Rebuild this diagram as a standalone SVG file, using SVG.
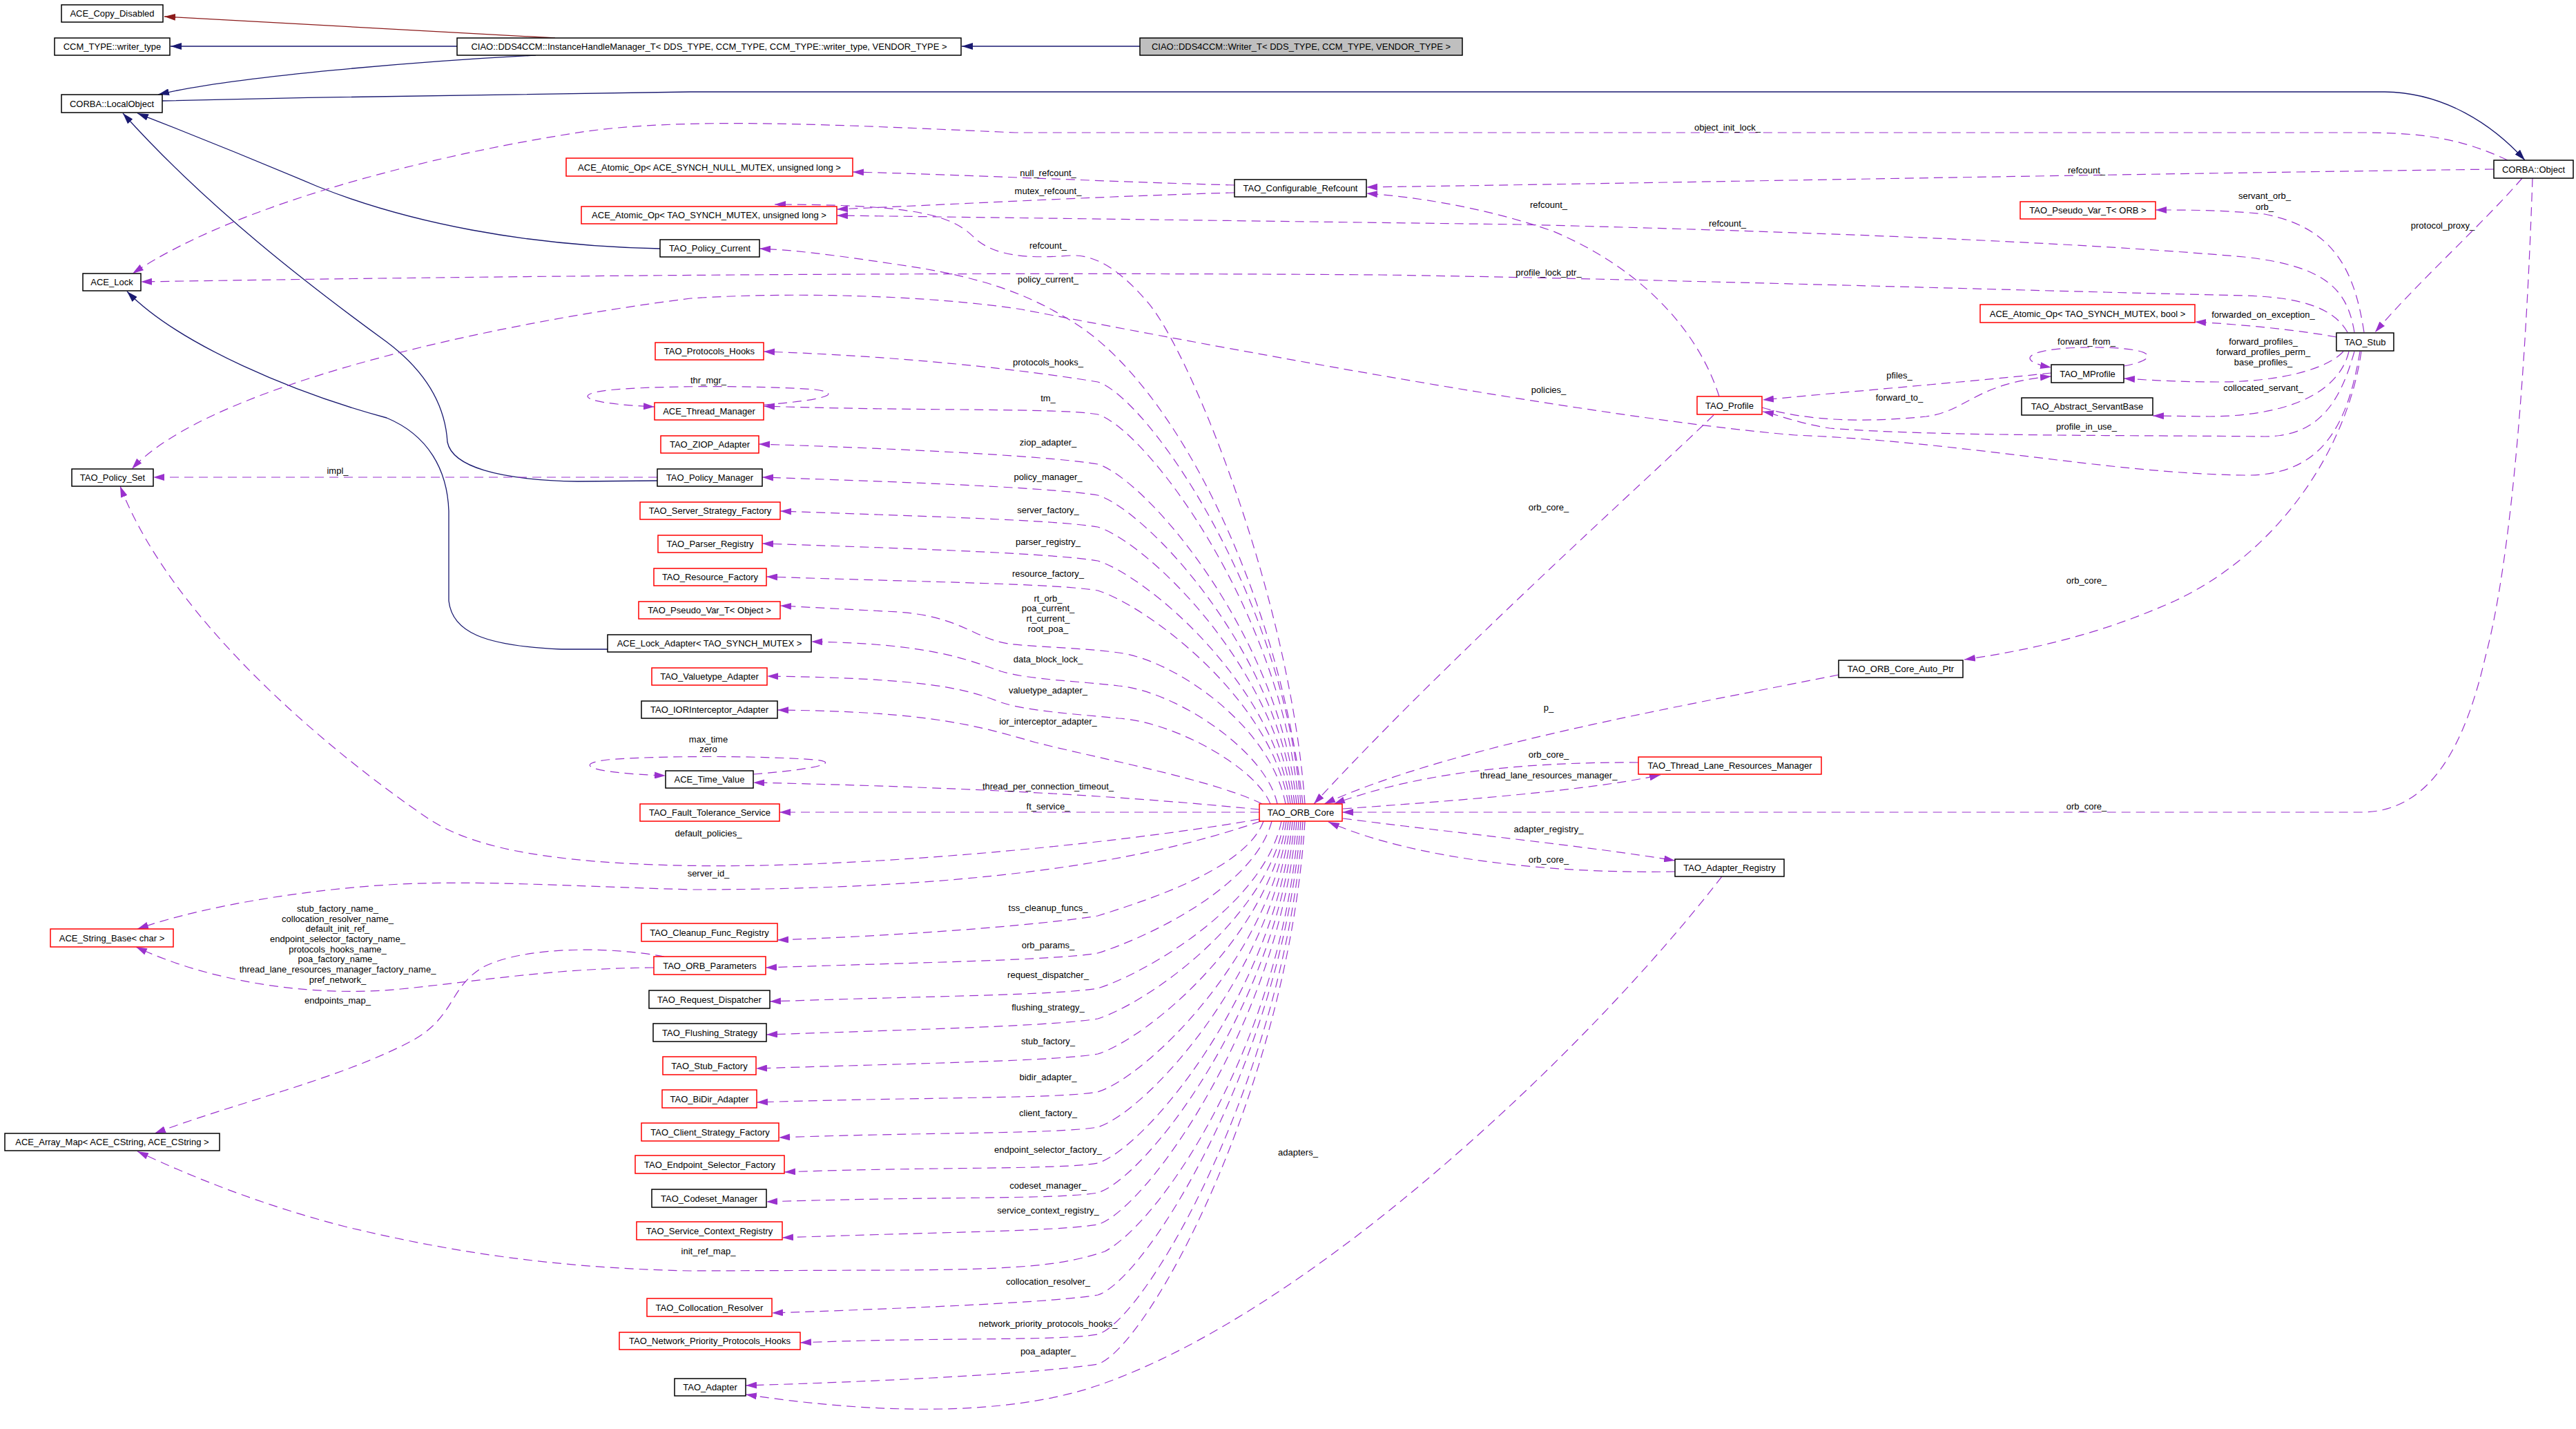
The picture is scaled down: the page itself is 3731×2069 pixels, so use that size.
<svg xmlns="http://www.w3.org/2000/svg" width="3731" height="2069" viewBox="0 0 3731 2069">
<style>
text{font-family:"Liberation Sans",Arial,sans-serif;font-size:13px;fill:#000}
.n rect{fill:#fff;stroke:#000;stroke-width:1.5}
.n.r rect{stroke:#f00}
.n.g rect{fill:#bfbfbf}
.n text{text-anchor:middle}
.lb text{text-anchor:middle}
.e path{fill:none}
.u{stroke:#9a32cd;stroke-width:1.2;stroke-dasharray:13,8;marker-end:url(#ap)}
.i{stroke:#191970;stroke-width:1.3;marker-end:url(#an)}
.pv{stroke:#8b1a1a;stroke-width:1.3;marker-end:url(#ar)}
</style>
<defs>
<marker id="ap" viewBox="0 0 16 10" refX="16" refY="5" markerWidth="16" markerHeight="10" markerUnits="userSpaceOnUse" orient="auto"><path d="M0,0 L16,5 L0,10 z" fill="#9a32cd"/></marker>
<marker id="an" viewBox="0 0 16 10" refX="16" refY="5" markerWidth="16" markerHeight="10" markerUnits="userSpaceOnUse" orient="auto"><path d="M0,0 L16,5 L0,10 z" fill="#191970"/></marker>
<marker id="ar" viewBox="0 0 16 10" refX="16" refY="5" markerWidth="16" markerHeight="10" markerUnits="userSpaceOnUse" orient="auto"><path d="M0,0 L16,5 L0,10 z" fill="#8b1a1a"/></marker>
</defs>
<rect width="3731" height="2069" fill="#fff"/>
<g id="edges" class="e">
<path class="pv" d="M804,55 L238,24"/>
<path class="i" d="M662,67 L247,67"/>
<path class="i" d="M776,80 C620,88 340,110 229,137"/>
<path class="i" d="M1651,67 L1393,67"/>
<path class="i" d="M235,146 C500,140 800,134 1000,133 L3454,133 C3540,134 3610,180 3657,232"/>
<path class="i" d="M956,360 C760,356 590,322 460,270 C330,215 240,180 199,164"/>
<path class="i" d="M952,696 L837,697 C720,695 655,675 648,640 C645,590 620,540 560,495 C450,415 300,300 178,164"/>
<path class="i" d="M880,940 L813,940 C700,935 655,915 650,870 L650,740 C648,680 620,630 560,605 C430,570 260,500 184,422"/>
<path class="u" d="M3632,232 C3560,198 3500,192 3420,192 L1470,192 C1200,180 1000,170 850,190 C650,220 350,290 192,396"/>
<path class="u" d="M3612,245 C3000,253 2400,265 1979,271"/>
<path class="u" d="M3653,258 C3600,320 3500,410 3440,481"/>
<path class="u" d="M3668,258 C3660,500 3640,800 3600,950 C3570,1080 3520,1176 3420,1176 L1944,1176"/>
<path class="u" d="M3424,481 C3410,390 3380,330 3280,310 C3220,304 3170,304 3122,304"/>
<path class="u" d="M3410,481 C3400,420 3370,385 3250,372 C3000,350 2600,335 2200,325 L1212,312"/>
<path class="u" d="M3400,481 C3380,445 3330,430 3250,428 C2900,420 2400,404 2000,398 C1600,395 1000,395 204,408"/>
<path class="u" d="M3384,488 C3330,478 3250,470 3179,466"/>
<path class="u" d="M3394,509 C3370,535 3300,553 3213,553 C3150,553 3110,550 3076,548"/>
<path class="u" d="M3402,509 C3390,560 3330,602 3200,603 L3118,602"/>
<path class="u" d="M3410,509 C3390,580 3360,632 3280,632 C3100,630 2800,632 2650,620 C2600,612 2575,600 2553,596"/>
<path class="u" d="M3418,509 C3400,620 3360,690 3250,688 C3050,685 2850,640 2600,630 C2300,605 1700,490 1480,448 C1350,428 1150,422 1000,432 C700,470 300,560 191,679"/>
<path class="u" d="M2971,540 C2880,550 2700,565 2553,579"/>
<path class="u" d="M2552,590 C2620,610 2700,612 2790,603 C2850,595 2860,555 2971,545"/>
<path class="u" d="M3076,530 C3130,520 3125,503 3030,503 C2935,503 2915,522 2971,532"/>
<path class="u" d="M2490,574 C2460,480 2380,390 2250,335 C2150,300 2050,285 1979,280"/>
<path class="u" d="M2482,601 C2380,700 2100,950 1903,1164"/>
<path class="u" d="M2663,977 C2450,1020 2100,1080 1918,1164"/>
<path class="u" d="M2373,1104 C2200,1103 2050,1120 1932,1164"/>
<path class="u" d="M1945,1171 C2100,1160 2300,1145 2405,1122"/>
<path class="u" d="M1945,1185 C2100,1205 2300,1225 2426,1246"/>
<path class="u" d="M2426,1262 C2250,1265 2050,1245 1924,1190"/>
<path class="u" d="M3420,509 C3400,650 3300,800 3150,870 C3050,915 2950,940 2845,955"/>
<path class="u" d="M2494,1269 C2300,1520 1900,1900 1590,2006 C1450,2054 1250,2045 1080,2019"/>
<path class="u" d="M1788,268 C1600,263 1400,253 1235,249"/>
<path class="u" d="M1788,279 C1600,284 1400,295 1212,303"/>
<path class="u" d="M1890,1164 C1868,860 1720,500 1660,435 C1625,395 1590,368 1550,370 C1485,375 1440,370 1412,345 C1380,312 1330,296 1122,296"/>
<path class="u" d="M1887,1164 C1850,850 1700,560 1560,470 C1490,425 1420,400 1300,383 C1200,368 1150,362 1100,360"/>
<path class="u" d="M1884,1164 C1859,858 1660,575 1590,553 C1530,543 1350,517 1106,509"/>
<path class="u" d="M1881,1164 C1856,882 1660,622 1590,600 C1530,590 1350,596 1106,588"/>
<path class="u" d="M1878,1164 C1853,918 1660,694 1590,672 C1530,662 1350,651 1099,643"/>
<path class="u" d="M1875,1164 C1850,940 1660,739 1590,717 C1530,707 1350,699 1104,691"/>
<path class="u" d="M1872,1164 C1847,963 1660,785 1590,763 C1530,753 1350,748 1130,740"/>
<path class="u" d="M1869,1164 C1844,988 1660,834 1590,812 C1530,802 1350,795 1104,787"/>
<path class="u" d="M1866,1164 C1841,1010 1660,877 1590,855 C1530,845 1350,843 1110,835"/>
<path class="u" d="M1862,1164 C1840,1050 1700,955 1620,945 C1570,938 1500,937 1460,932 C1410,924 1390,892 1300,886 L1130,877"/>
<path class="u" d="M1850,1164 C1833,1085 1700,1000 1620,993 C1560,986 1490,984 1450,972 C1400,955 1350,932 1175,929"/>
<path class="u" d="M1840,1164 C1818,1110 1700,1045 1620,1040 C1560,1034 1490,1030 1450,1017 C1400,998 1350,982 1111,979"/>
<path class="u" d="M1828,1164 C1760,1130 1600,1100 1500,1075 C1420,1052 1350,1030 1126,1028"/>
<path class="u" d="M1106,586 C1190,580 1225,570 1180,564 C1100,558 950,558 880,565 C830,571 840,584 948,589"/>
<path class="u" d="M1091,1121 C1180,1114 1220,1104 1180,1100 C1100,1094 950,1094 880,1100 C830,1106 850,1119 964,1123"/>
<path class="u" d="M1824,1172 C1700,1160 1500,1142 1091,1133"/>
<path class="u" d="M1824,1176 L1129,1176"/>
<path class="u" d="M952,691 L222,691"/>
<path class="u" d="M1824,1186 C1600,1225 1200,1262 950,1252 C780,1246 680,1225 620,1185 C480,1090 250,900 174,704"/>
<path class="u" d="M1826,1189 C1650,1250 1400,1288 1000,1288 C800,1282 700,1275 580,1280 C450,1287 300,1310 199,1345"/>
<path class="u" d="M947,1401 C800,1402 700,1420 580,1432 C450,1445 300,1420 197,1371"/>
<path class="u" d="M962,1385 C880,1370 760,1370 700,1400 C650,1430 660,1470 600,1505 C500,1560 330,1600 224,1641"/>
<path class="u" d="M1830,1189 C1805,1258 1660,1304 1590,1326 C1530,1336 1350,1353 1126,1361"/>
<path class="u" d="M1842,1189 C1817,1285 1660,1358 1590,1380 C1530,1390 1350,1393 1109,1401"/>
<path class="u" d="M1856,1189 C1831,1310 1660,1409 1590,1431 C1530,1441 1350,1442 1115,1450"/>
<path class="u" d="M1860,1189 C1835,1332 1660,1453 1590,1475 C1530,1485 1350,1490 1110,1498"/>
<path class="u" d="M1863,1189 C1838,1358 1660,1504 1590,1526 C1530,1536 1350,1539 1095,1547"/>
<path class="u" d="M1866,1189 C1841,1385 1660,1559 1590,1581 C1530,1591 1350,1588 1096,1596"/>
<path class="u" d="M1869,1189 C1844,1410 1660,1610 1590,1632 C1530,1642 1350,1639 1128,1647"/>
<path class="u" d="M1872,1189 C1847,1436 1660,1662 1590,1684 C1530,1694 1350,1689 1136,1697"/>
<path class="u" d="M1875,1189 C1850,1458 1660,1705 1590,1727 C1530,1737 1350,1732 1110,1740"/>
<path class="u" d="M1878,1189 C1853,1481 1660,1751 1590,1773 C1530,1783 1350,1784 1133,1792"/>
<path class="u" d="M1881,1189 C1856,1515 1680,1770 1600,1812 C1540,1832 1480,1838 1300,1839 L1000,1840 C800,1836 650,1812 500,1776 C380,1745 280,1705 199,1667"/>
<path class="u" d="M1884,1189 C1859,1532 1660,1853 1590,1875 C1530,1885 1350,1893 1118,1901"/>
<path class="u" d="M1887,1189 C1862,1560 1660,1910 1590,1932 C1530,1942 1350,1936 1159,1944"/>
<path class="u" d="M1890,1189 C1865,1582 1660,1953 1590,1975 C1530,1985 1350,1998 1080,2006"/>
</g>
<g id="edge-labels" class="lb">
<text x="2502" y="189">object_init_lock_</text>
<text x="3022" y="251">refcount_</text>
<text x="3538" y="331">protocol_proxy_</text>
<text x="3022" y="1172">orb_core_</text>
<text x="3280" y="288">servant_orb_</text>
<text x="3280" y="304">orb_</text>
<text x="2502" y="328">refcount_</text>
<text x="2243" y="399">profile_lock_ptr_</text>
<text x="3278" y="460">forwarded_on_exception_</text>
<text x="3278" y="499">forward_profiles_</text>
<text x="3278" y="514">forward_profiles_perm_</text>
<text x="3278" y="529">base_profiles_</text>
<text x="3278" y="566">collocated_servant_</text>
<text x="3022" y="622">profile_in_use_</text>
<text x="2243" y="569">policies_</text>
<text x="2751" y="548">pfiles_</text>
<text x="2751" y="580">forward_to_</text>
<text x="3022" y="499">forward_from_</text>
<text x="2243" y="301">refcount_</text>
<text x="2243" y="739">orb_core_</text>
<text x="2243" y="1029">p_</text>
<text x="2243" y="1097">orb_core_</text>
<text x="2243" y="1127">thread_lane_resources_manager_</text>
<text x="2243" y="1205">adapter_registry_</text>
<text x="2243" y="1249">orb_core_</text>
<text x="3022" y="845">orb_core_</text>
<text x="1880" y="1673">adapters_</text>
<text x="1518" y="255">null_refcount_</text>
<text x="1518" y="281">mutex_refcount_</text>
<text x="1518" y="360">refcount_</text>
<text x="1518" y="409">policy_current_</text>
<text x="1518" y="529">protocols_hooks_</text>
<text x="1518" y="581">tm_</text>
<text x="1518" y="645">ziop_adapter_</text>
<text x="1518" y="695">policy_manager_</text>
<text x="1518" y="743">server_factory_</text>
<text x="1518" y="789">parser_registry_</text>
<text x="1518" y="835">resource_factory_</text>
<text x="1518" y="871">rt_orb_</text>
<text x="1518" y="885">poa_current_</text>
<text x="1518" y="900">rt_current_</text>
<text x="1518" y="915">root_poa_</text>
<text x="1518" y="959">data_block_lock_</text>
<text x="1518" y="1004">valuetype_adapter_</text>
<text x="1518" y="1049">ior_interceptor_adapter_</text>
<text x="1518" y="1143">thread_per_connection_timeout_</text>
<text x="1518" y="1172">ft_service_</text>
<text x="1518" y="1319">tss_cleanup_funcs_</text>
<text x="1518" y="1373">orb_params_</text>
<text x="1518" y="1416">request_dispatcher_</text>
<text x="1518" y="1463">flushing_strategy_</text>
<text x="1518" y="1512">stub_factory_</text>
<text x="1518" y="1564">bidir_adapter_</text>
<text x="1518" y="1616">client_factory_</text>
<text x="1518" y="1669">endpoint_selector_factory_</text>
<text x="1518" y="1721">codeset_manager_</text>
<text x="1518" y="1757">service_context_registry_</text>
<text x="1518" y="1860">collocation_resolver_</text>
<text x="1518" y="1921">network_priority_protocols_hooks_</text>
<text x="1518" y="1961">poa_adapter_</text>
<text x="489" y="686">impl_</text>
<text x="1026" y="555">thr_mgr_</text>
<text x="1026" y="1075">max_time</text>
<text x="1026" y="1089">zero</text>
<text x="1026" y="1211">default_policies_</text>
<text x="1026" y="1269">server_id_</text>
<text x="1026" y="1816">init_ref_map_</text>
<text x="489" y="1453">endpoints_map_</text>
<text x="489" y="1320">stub_factory_name_</text>
<text x="489" y="1335">collocation_resolver_name_</text>
<text x="489" y="1349">default_init_ref_</text>
<text x="489" y="1364">endpoint_selector_factory_name_</text>
<text x="489" y="1379">protocols_hooks_name_</text>
<text x="489" y="1393">poa_factory_name_</text>
<text x="489" y="1408">thread_lane_resources_manager_factory_name_</text>
<text x="489" y="1423">pref_network_</text>
</g>
<g id="n1" class="n"><rect x="89" y="7" width="147" height="25"/><text x="162.5" y="24">ACE_Copy_Disabled</text></g>
<g id="n2" class="n"><rect x="79" y="55" width="167" height="25"/><text x="162.5" y="72">CCM_TYPE::writer_type</text></g>
<g id="n3" class="n"><rect x="662" y="55" width="730" height="25"/><text x="1027" y="72">CIAO::DDS4CCM::InstanceHandleManager_T&lt; DDS_TYPE, CCM_TYPE, CCM_TYPE::writer_type, VENDOR_TYPE &gt;</text></g>
<g id="n4" class="n g"><rect x="1651" y="55" width="467" height="25"/><text x="1884.5" y="72">CIAO::DDS4CCM::Writer_T&lt; DDS_TYPE, CCM_TYPE, VENDOR_TYPE &gt;</text></g>
<g id="n5" class="n"><rect x="89" y="137" width="146" height="26"/><text x="162" y="155">CORBA::LocalObject</text></g>
<g id="n6" class="n r"><rect x="820" y="229" width="415" height="26"/><text x="1027.5" y="247">ACE_Atomic_Op&lt; ACE_SYNCH_NULL_MUTEX, unsigned long &gt;</text></g>
<g id="n7" class="n"><rect x="1788" y="260" width="191" height="25"/><text x="1883.5" y="277">TAO_Configurable_Refcount</text></g>
<g id="n8" class="n"><rect x="3612" y="232" width="115" height="26"/><text x="3669.5" y="250">CORBA::Object</text></g>
<g id="n9" class="n r"><rect x="842" y="299" width="370" height="25"/><text x="1027" y="316">ACE_Atomic_Op&lt; TAO_SYNCH_MUTEX, unsigned long &gt;</text></g>
<g id="n10" class="n r"><rect x="2926" y="292" width="196" height="25"/><text x="3024" y="309">TAO_Pseudo_Var_T&lt; ORB &gt;</text></g>
<g id="n11" class="n"><rect x="956" y="347" width="144" height="25"/><text x="1028" y="364">TAO_Policy_Current</text></g>
<g id="n12" class="n"><rect x="120" y="396" width="84" height="25"/><text x="162" y="413">ACE_Lock</text></g>
<g id="n13" class="n r"><rect x="2868" y="441" width="311" height="26"/><text x="3023.5" y="459">ACE_Atomic_Op&lt; TAO_SYNCH_MUTEX, bool &gt;</text></g>
<g id="n14" class="n"><rect x="3384" y="482" width="83" height="26"/><text x="3425.5" y="500">TAO_Stub</text></g>
<g id="n15" class="n r"><rect x="949" y="496" width="157" height="25"/><text x="1027.5" y="513">TAO_Protocols_Hooks</text></g>
<g id="n16" class="n"><rect x="2971" y="528" width="105" height="26"/><text x="3023.5" y="546">TAO_MProfile</text></g>
<g id="n17" class="n r"><rect x="2458" y="574" width="94" height="26"/><text x="2505" y="592">TAO_Profile</text></g>
<g id="n18" class="n"><rect x="2928" y="576" width="190" height="25"/><text x="3023" y="593">TAO_Abstract_ServantBase</text></g>
<g id="n19" class="n r"><rect x="948" y="583" width="158" height="25"/><text x="1027" y="600">ACE_Thread_Manager</text></g>
<g id="n20" class="n r"><rect x="957" y="631" width="142" height="25"/><text x="1028" y="648">TAO_ZIOP_Adapter</text></g>
<g id="n21" class="n"><rect x="104" y="679" width="118" height="25"/><text x="163" y="696">TAO_Policy_Set</text></g>
<g id="n22" class="n"><rect x="952" y="679" width="152" height="25"/><text x="1028" y="696">TAO_Policy_Manager</text></g>
<g id="n23" class="n r"><rect x="927" y="727" width="203" height="25"/><text x="1028.5" y="744">TAO_Server_Strategy_Factory</text></g>
<g id="n24" class="n r"><rect x="953" y="775" width="151" height="25"/><text x="1028.5" y="792">TAO_Parser_Registry</text></g>
<g id="n25" class="n r"><rect x="947" y="823" width="163" height="25"/><text x="1028.5" y="840">TAO_Resource_Factory</text></g>
<g id="n26" class="n r"><rect x="925" y="871" width="205" height="25"/><text x="1027.5" y="888">TAO_Pseudo_Var_T&lt; Object &gt;</text></g>
<g id="n27" class="n"><rect x="880" y="919" width="295" height="25"/><text x="1027.5" y="936">ACE_Lock_Adapter&lt; TAO_SYNCH_MUTEX &gt;</text></g>
<g id="n28" class="n"><rect x="2663" y="956" width="180" height="25"/><text x="2753" y="973">TAO_ORB_Core_Auto_Ptr</text></g>
<g id="n29" class="n r"><rect x="944" y="967" width="167" height="25"/><text x="1027.5" y="984">TAO_Valuetype_Adapter</text></g>
<g id="n30" class="n"><rect x="929" y="1015" width="197" height="25"/><text x="1027.5" y="1032">TAO_IORInterceptor_Adapter</text></g>
<g id="n31" class="n r"><rect x="2373" y="1096" width="265" height="25"/><text x="2505.5" y="1113">TAO_Thread_Lane_Resources_Manager</text></g>
<g id="n32" class="n"><rect x="964" y="1116" width="127" height="25"/><text x="1027.5" y="1133">ACE_Time_Value</text></g>
<g id="n33" class="n r"><rect x="1824" y="1164" width="120" height="25"/><text x="1884" y="1181">TAO_ORB_Core</text></g>
<g id="n34" class="n r"><rect x="927" y="1164" width="202" height="25"/><text x="1028" y="1181">TAO_Fault_Tolerance_Service</text></g>
<g id="n35" class="n"><rect x="2426" y="1244" width="158" height="25"/><text x="2505" y="1261">TAO_Adapter_Registry</text></g>
<g id="n36" class="n r"><rect x="929" y="1337" width="197" height="26"/><text x="1027.5" y="1355">TAO_Cleanup_Func_Registry</text></g>
<g id="n37" class="n r"><rect x="73" y="1345" width="178" height="26"/><text x="162" y="1363">ACE_String_Base&lt; char &gt;</text></g>
<g id="n38" class="n r"><rect x="947" y="1385" width="162" height="26"/><text x="1028" y="1403">TAO_ORB_Parameters</text></g>
<g id="n39" class="n"><rect x="940" y="1434" width="175" height="26"/><text x="1027.5" y="1452">TAO_Request_Dispatcher</text></g>
<g id="n40" class="n"><rect x="946" y="1482" width="164" height="26"/><text x="1028" y="1500">TAO_Flushing_Strategy</text></g>
<g id="n41" class="n r"><rect x="960" y="1530" width="135" height="26"/><text x="1027.5" y="1548">TAO_Stub_Factory</text></g>
<g id="n42" class="n r"><rect x="959" y="1578" width="137" height="26"/><text x="1027.5" y="1596">TAO_BiDir_Adapter</text></g>
<g id="n43" class="n r"><rect x="929" y="1626" width="199" height="26"/><text x="1028.5" y="1644">TAO_Client_Strategy_Factory</text></g>
<g id="n44" class="n"><rect x="7" y="1641" width="311" height="25"/><text x="162.5" y="1658">ACE_Array_Map&lt; ACE_CString, ACE_CString &gt;</text></g>
<g id="n45" class="n r"><rect x="920" y="1673" width="216" height="26"/><text x="1028" y="1691">TAO_Endpoint_Selector_Factory</text></g>
<g id="n46" class="n"><rect x="944" y="1722" width="166" height="26"/><text x="1027" y="1740">TAO_Codeset_Manager</text></g>
<g id="n47" class="n r"><rect x="922" y="1769" width="211" height="26"/><text x="1027.5" y="1787">TAO_Service_Context_Registry</text></g>
<g id="n48" class="n r"><rect x="937" y="1880" width="181" height="26"/><text x="1027.5" y="1898">TAO_Collocation_Resolver</text></g>
<g id="n49" class="n r"><rect x="897" y="1929" width="262" height="25"/><text x="1028" y="1946">TAO_Network_Priority_Protocols_Hooks</text></g>
<g id="n50" class="n"><rect x="977" y="1996" width="103" height="25"/><text x="1028.5" y="2013">TAO_Adapter</text></g>
</svg>
